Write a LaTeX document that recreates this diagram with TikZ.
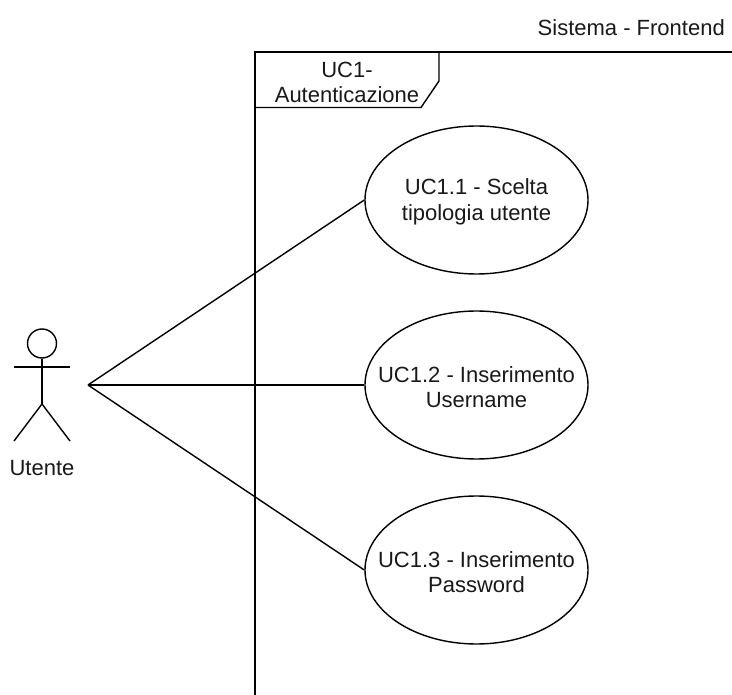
\documentclass[tikz,border=0pt]{standalone}
\usepackage{fontspec}
\setmainfont{Liberation Sans}
\usetikzlibrary{shapes.geometric}
\definecolor{txt}{gray}{0.1}
\begin{document}
\begin{tikzpicture}[x=1pt,y=-1pt,
  line width=1.4pt,
  uc/.style={draw,ellipse,minimum width=223pt,minimum height=148pt,inner sep=0pt},
  lbl/.style={inner sep=0pt,align=center,text=txt,font=\fontsize{22}{25.5}\selectfont}]
\useasboundingbox (0,0) rectangle (732,695);
\fill[white] (0,0) rectangle (732,695);
\node[lbl,anchor=east] (sys) at (725.5,28) {Sistema - Frontend};
\draw (732,52) -- (255,52) -- (255,695);
\coordinate (f1) at (439,52);
\coordinate (f2) at (439,81);
\coordinate (f3) at (421,107.5);
\coordinate (f4) at (255,107.5);
\draw (f1) -- (f2) -- (f3) -- (f4);
\node[lbl] (title) at (347,82.5) {UC1-\\Autenticazione};
\node[uc] (a) at (476.5,200) {};
\node[uc] (b) at (476.5,385) {};
\node[uc] (c) at (476.5,570) {};
\node[lbl] (at) at (476.5,202) {UC1.1 - Scelta\\tipologia utente};
\node[lbl] (bt) at (476.5,387) {UC1.2 - Inserimento\\Username};
\node[lbl] (ct) at (476.5,572) {UC1.3 - Inserimento\\Password};
\node[draw,circle,minimum size=29pt,inner sep=0pt] (head) at (42,343.5) {};
\coordinate (hip) at (42,404);
\coordinate (armL) at (14,367);
\coordinate (armR) at (70,367);
\coordinate (footL) at (14,441);
\coordinate (footR) at (70,441);
\coordinate (act) at (88,385);
\draw (head.south) -- (hip);
\draw (armL) -- (armR);
\draw (footL) -- (hip) -- (footR);
\node[lbl] (ut) at (42,468) {Utente};
\draw (act) -- (a.west);
\draw (act) -- (b.west);
\draw (act) -- (c.west);
\end{tikzpicture}
\end{document}
